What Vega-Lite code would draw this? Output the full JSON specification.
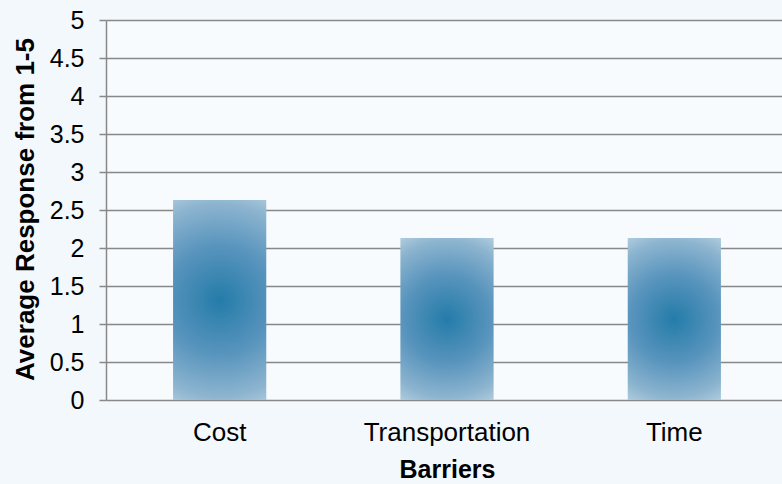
{
  "$schema": "https://vega.github.io/schema/vega-lite/v6.json",
  "width": 682,
  "height": 380,
  "autosize": "none",
  "padding": {"left": 106, "top": 20, "right": 0, "bottom": 84},
  "background": "#f2f8fb",
  "data": {
    "values": [
      {"barrier": "Cost", "value": 2.63},
      {"barrier": "Transportation", "value": 2.13},
      {"barrier": "Time", "value": 2.13}
    ]
  },
  "mark": {
    "type": "bar",
    "color": {
      "gradient": "radial",
      "x1": 0.5, "y1": 0.5, "r1": 0,
      "x2": 0.5, "y2": 0.5, "r2": 0.6,
      "stops": [
        {"offset": 0, "color": "#247ca9"},
        {"offset": 0.45, "color": "#5894bd"},
        {"offset": 0.8, "color": "#8cb4cf"},
        {"offset": 1, "color": "#b8d1e2"}
      ]
    }
  },
  "encoding": {
    "x": {
      "field": "barrier",
      "type": "nominal",
      "sort": null,
      "scale": {"paddingInner": 0.59, "paddingOuter": 0.295},
      "axis": {
        "title": "Barriers",
        "labelAngle": 0,
        "domain": false,
        "ticks": false,
        "labelFont": "Liberation Sans",
        "labelFontSize": 26,
        "labelColor": "#000000",
        "labelBaseline": "alphabetic",
        "labelPadding": 40,
        "titleFont": "Liberation Sans",
        "titleFontSize": 25,
        "titleFontWeight": "bold",
        "titleColor": "#000000",
        "titleBaseline": "alphabetic",
        "titleY": 77
      }
    },
    "y": {
      "field": "value",
      "type": "quantitative",
      "scale": {"domain": [0, 5]},
      "axis": {
        "title": "Average Response from 1-5",
        "values": [0, 0.5, 1, 1.5, 2, 2.5, 3, 3.5, 4, 4.5, 5],
        "format": "~g",
        "domainColor": "#888888",
        "domainWidth": 1.5,
        "tickColor": "#888888",
        "tickWidth": 1.5,
        "tickSize": 7,
        "gridColor": "#888888",
        "gridWidth": 1.5,
        "gridOpacity": 1,
        "labelFont": "Liberation Sans",
        "labelFontSize": 25,
        "labelColor": "#000000",
        "labelPadding": 15,
        "titleFont": "Liberation Sans",
        "titleFontSize": 26,
        "titleFontWeight": "bold",
        "titleColor": "#000000",
        "titleBaseline": "alphabetic",
        "titleX": -73,
        "titleY": 189
      }
    }
  },
  "config": {"view": {"stroke": null, "fill": "#f7fbfd"}}
}
